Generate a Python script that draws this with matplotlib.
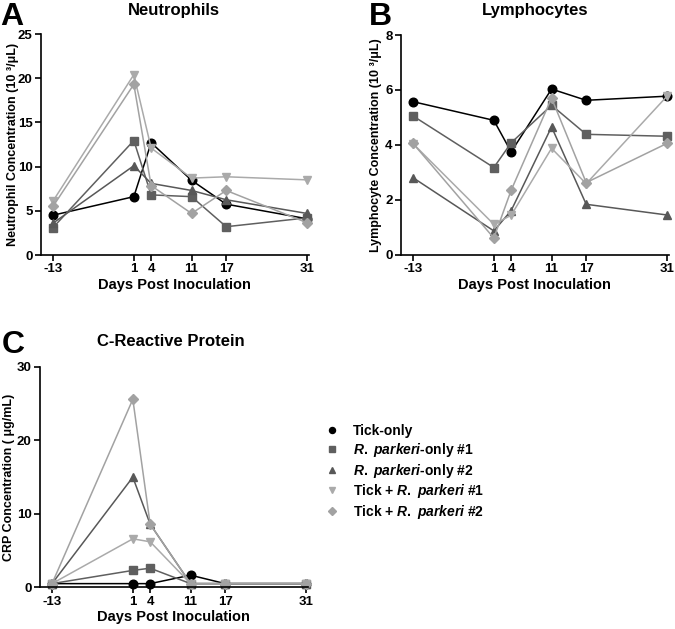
import matplotlib
matplotlib.use("Agg")
import matplotlib.pyplot as plt
from matplotlib.lines import Line2D

plt.rcParams['font.family'] = ['Liberation Sans', 'DejaVu Sans']
plt.rcParams['font.weight'] = 'bold'
plt.rcParams['axes.unicode_minus'] = False
plt.rcParams['mathtext.fontset'] = 'custom'
plt.rcParams['mathtext.rm'] = 'Liberation Sans:bold'
plt.rcParams['mathtext.bf'] = 'Liberation Sans:bold'
plt.rcParams['mathtext.it'] = 'Liberation Sans:italic:bold'

days = [-13, 1, 4, 11, 17, 31]
day_labels = ['-13', '1', '4', '11', '17', '31']

series_names = ['Tick-only',
                r'$\mathit{R.\ parkeri}$-only #1',
                r'$\mathit{R.\ parkeri}$-only #2',
                r'Tick + $\mathit{R.\ parkeri}$ #1',
                r'Tick + $\mathit{R.\ parkeri}$ #2']

# Neutrophils (10^3/uL)
neut_tick = [4.5, 6.6, 12.7, 8.45, 5.75, 4.1]
neut_rp1 = [3.1, 12.95, 6.8, 6.6, 3.2, 4.2]
neut_rp2 = [3.6, 10.1, 8.1, 7.3, 6.25, 4.7]
neut_trp1 = [6.1, 20.4, 12.1, 8.7, 8.85, 8.5]
neut_trp2 = [5.5, 19.3, 7.85, 4.7, 7.3, 3.65]

# Lymphocytes (10^3/uL)
lymph_tick = [5.57, 4.89, 3.74, 6.03, 5.62, 5.77]
lymph_rp1 = [5.05, 3.17, 4.07, 5.44, 4.38, 4.31]
lymph_rp2 = [2.8, 0.86, 1.6, 4.65, 1.83, 1.44]
lymph_trp1 = [4.04, 1.1, 1.43, 3.87, 2.58, 5.77]
lymph_trp2 = [4.05, 0.6, 2.34, 5.7, 2.62, 4.05]

# CRP (ug/mL)
crp_tick = [0.5, 0.5, 0.5, 1.65, 0.5, 0.5]
crp_rp1 = [0.5, 2.3, 2.6, 0.5, 0.5, 0.5]
crp_rp2 = [0.5, 15.0, 8.6, 0.5, 0.5, 0.5]
crp_trp1 = [0.5, 6.6, 6.2, 0.5, 0.5, 0.5]
crp_trp2 = [0.5, 25.6, 8.6, 0.5, 0.5, 0.5]

colors = ['#000000', '#5f5f5f', '#585858', '#aaaaaa', '#a2a2a2']
markers = ['o', 's', '^', 'v', 'D']
msizes = [6.2, 6.2, 6.4, 6.4, 5.4]

W, H = 675, 629
fig = plt.figure(figsize=(W / 100, H / 100), dpi=100)

XMIN, XMAX = -15.08, 31.3
PX_PER_DAY = 5.773
WIDTH_PX = (XMAX - XMIN) * PX_PER_DAY


def make_axes(left_px, top_px, bottom_px):
    return fig.add_axes([left_px / W, 1 - bottom_px / H, WIDTH_PX / W, (bottom_px - top_px) / H])


def style_axes(ax, ylim, yticks, ylabel, label_offset_px):
    ax.set_xlim(XMIN, XMAX)
    ax.set_ylim(*ylim)
    ax.set_xticks(days)
    ax.set_xticklabels(day_labels)
    ax.set_yticks(yticks)
    for s in ['top', 'right']:
        ax.spines[s].set_visible(False)
    for s in ['left', 'bottom']:
        ax.spines[s].set_linewidth(1.2)
    ax.tick_params(direction='out', length=4, width=1.2, labelsize=9.5, pad=2)
    for lab in ax.get_xticklabels() + ax.get_yticklabels():
        lab.set_fontweight('bold')
    ax.set_xlabel('Days Post Inoculation', fontsize=10.5, fontweight='bold', labelpad=2)
    ax.set_ylabel(ylabel, fontsize=9, fontweight='bold')
    ax.yaxis.set_label_coords(label_offset_px / WIDTH_PX, 0.5)


def plot_series(ax, data):
    for vals, c, m, ms in zip(data, colors, markers, msizes):
        ax.plot(days, vals, color=c, marker=m, markersize=ms, linewidth=1.1,
                markeredgecolor=c, markerfacecolor=c, clip_on=False)


axA = make_axes(41, 34, 255)
plot_series(axA, [neut_tick, neut_rp1, neut_rp2, neut_trp1, neut_trp2])
style_axes(axA, (0, 25), [0, 5, 10, 15, 20, 25], 'Neutrophil Concentration (10 ³/μL)', -22)

axB = make_axes(401, 35, 254.5)
plot_series(axB, [lymph_tick, lymph_rp1, lymph_rp2, lymph_trp1, lymph_trp2])
style_axes(axB, (0, 8), [0, 2, 4, 6, 8], 'Lymphocyte Concentration (10 ³/μL)', -18.5)

axC = make_axes(40, 367, 587.3)
plot_series(axC, [crp_tick, crp_rp1, crp_rp2, crp_trp1, crp_trp2])
style_axes(axC, (0, 30), [0, 10, 20, 30], 'CRP Concentration ( μg/mL)', -25)

# Titles
fig.text(174 / W, 1 - 14.5 / H, 'Neutrophils', ha='center', va='baseline', fontsize=12, fontweight='bold')
fig.text(535 / W, 1 - 14.5 / H, 'Lymphocytes', ha='center', va='baseline', fontsize=12, fontweight='bold')
fig.text(171 / W, 1 - 346.5 / H, 'C-Reactive Protein', ha='center', va='baseline', fontsize=12, fontweight='bold')

# Panel letters
fig.text(0.5 / W, 1 - 25 / H, 'A', ha='left', va='baseline', fontsize=23, fontweight='bold')
fig.text(369 / W, 1 - 25 / H, 'B', ha='left', va='baseline', fontsize=23, fontweight='bold')
fig.text(2 / W, 1 - 353 / H, 'C', ha='left', va='baseline', fontsize=23, fontweight='bold')

# Legend
handles = [Line2D([], [], color=c, marker=m, linestyle='none', markersize=ms * 0.7,
                  markeredgecolor=c, markerfacecolor=c)
           for c, m, ms in zip(colors, markers, msizes)]
leg = fig.legend(handles, series_names, loc='upper left',
                 bbox_to_anchor=(325 / W, 1 - 424 / H), frameon=False,
                 prop={'size': 10, 'weight': 'bold'}, handlelength=1.0,
                 handletextpad=1.0, labelspacing=0.2, borderpad=0, borderaxespad=0)

fig.savefig('out.png', dpi=100)
